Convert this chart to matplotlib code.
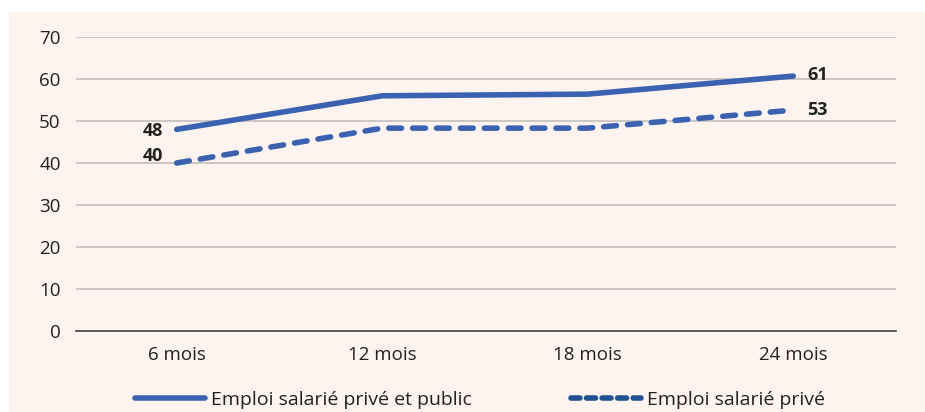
import matplotlib
matplotlib.use("Agg")
from matplotlib import pyplot as plt
from matplotlib.patches import Rectangle

plt.rcParams['font.family'] = ['Open Sans', 'DejaVu Sans']

categories = ["6 mois", "12 mois", "18 mois", "24 mois"]
prive_public = [48, 56, 56.4, 60.7]
prive = [40, 48.3, 48.3, 52.6]
labels_pp = {0: "48", 3: "61"}
labels_p = {0: "40", 3: "53"}
yticks = [0, 10, 20, 30, 40, 50, 60, 70]

BG = "#fdf4ef"
BLUE = "#3a62b0"

if __name__ == "__main__":
    fig = plt.figure(figsize=(9.25, 4.12), dpi=100)
    fig.patch.set_facecolor("white")
    fig.patches.append(Rectangle((9 / 925, 0), 1, 1 - 12 / 412, transform=fig.transFigure,
                                 facecolor=BG, edgecolor="none", zorder=-10))

    ax = fig.add_axes([76 / 925, 1 - 331 / 412, (896 - 76) / 925, (331 - 37) / 412])
    ax.set_facecolor("none")
    x = list(range(len(categories)))

    ax.plot(x, prive_public, color=BLUE, lw=4, solid_capstyle="round",
            label="Emploi salarié privé et public", zorder=3)
    ax.plot(x, prive, color=BLUE, lw=4, dashes=(2.3, 2.0), dash_capstyle="round",
            label="Emploi salarié privé", zorder=3)

    lab = dict(fontsize=13, fontweight="bold", color="#222222", va="center")
    for i, t in labels_pp.items():
        if i == 0:
            ax.annotate(t, (x[i], prive_public[i]), xytext=(-10, -1), textcoords="offset points",
                        ha="right", **lab)
        else:
            ax.annotate(t, (x[i], prive_public[i]), xytext=(10, 1), textcoords="offset points",
                        ha="left", **lab)
    for i, t in labels_p.items():
        if i == 0:
            ax.annotate(t, (x[i], prive[i]), xytext=(-10, 5), textcoords="offset points",
                        ha="right", **lab)
        else:
            ax.annotate(t, (x[i], prive[i]), xytext=(10, 0), textcoords="offset points",
                        ha="left", **lab)

    ax.set_xlim(-0.49, 3.5)
    ax.set_ylim(0, 70)
    ax.set_yticks(yticks)
    ax.set_xticks(x)
    ax.set_xticklabels(categories)
    ax.grid(axis="y", color="#c4c0bd", lw=1.2)
    ax.set_axisbelow(True)
    for s in ["top", "right", "left"]:
        ax.spines[s].set_visible(False)
    ax.spines["bottom"].set_color("#444444")
    ax.spines["bottom"].set_linewidth(1.2)
    ax.tick_params(axis="both", length=0, labelsize=13.5, labelcolor="#222222")
    ax.tick_params(axis="y", pad=11)
    ax.tick_params(axis="x", pad=11)

    leg = fig.legend(loc="center", bbox_to_anchor=(480 / 925, 1 - 400 / 412), ncol=2,
                     frameon=False, fontsize=14, handlelength=3.6, handletextpad=0.3,
                     columnspacing=5.1, labelcolor="#222222")
    leg.legend_handles[1].set_color("#1f5290")
    leg.legend_handles[1].set_dashes((1.6, 1.2))

    fig.savefig("out.png", dpi=100, facecolor=fig.get_facecolor())
